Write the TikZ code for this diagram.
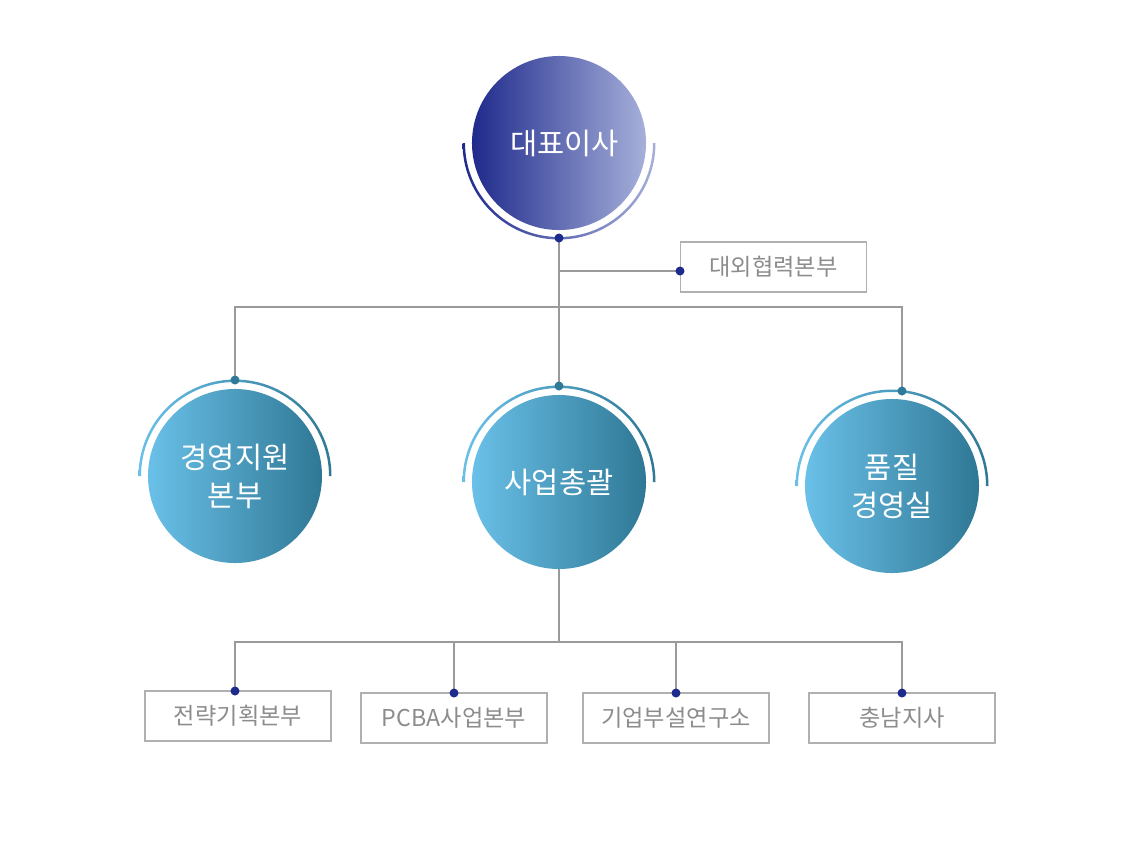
\documentclass[tikz,border=0pt]{standalone}
\usepackage{fontspec}
\newfontfamily\kr{Noto Sans CJK KR}
\usepackage{tikz}
\usetikzlibrary{shapes.geometric}
\definecolor{navyA}{HTML}{1F2A8C}
\definecolor{navyB}{HTML}{A6B0DA}
\definecolor{skyA}{HTML}{6AC0E8}
\definecolor{skyB}{HTML}{2F7895}
\definecolor{pinBlue}{HTML}{1E2B8E}
\definecolor{pinTeal}{HTML}{2E7A98}
\definecolor{wireGray}{HTML}{9A9A9A}
\definecolor{frameGray}{HTML}{B0B0B0}
\definecolor{labelGray}{HTML}{8C8C8C}
\tikzstyle{topcircle} = [circle, minimum size=4.35cm, inner sep=0pt, left color=navyA, right color=navyB, text=white, font=\kr\fontsize{21}{27}\selectfont]
\tikzstyle{subcircle} = [circle, minimum size=4.35cm, inner sep=0pt, left color=skyA, right color=skyB, text=white, align=center, font=\kr\fontsize{21}{27}\selectfont]
\tikzstyle{unitbox} = [rectangle, minimum width=4.65cm, minimum height=1.25cm, draw=frameGray, line width=0.8pt, text=labelGray, font=\kr\fontsize{16.5}{19}\selectfont]
\tikzstyle{wire} = [draw=wireGray, line width=1pt]
\tikzset{
  pinA/.style={fill=pinBlue},
  pinB/.style={fill=pinTeal},
}

\begin{document}
\begin{tikzpicture}[x=0.025cm, y=0.025cm]
\useasboundingbox (0,0) rectangle (1134,-851);

\node (ceo) [topcircle] at (559,-143) {\hspace{8pt}대표이사};
\node (mgmt) [subcircle] at (235,-476) {경영지원\\본부};
\node (biz) [subcircle] at (559,-482) {사업총괄};
\node (qual) [subcircle] at (892,-486) {품질\\경영실};

\node (ext) [unitbox, anchor=west] at (680,-267) {대외협력본부};
\node (strat) [unitbox] at (238,-716) {전략기획본부};
\node (pcba) [unitbox] at (454,-718) {PCBA사업본부};
\node (lab) [unitbox] at (676,-718) {기업부설연구소};
\node (branch) [unitbox] at (902,-718) {충남지사};

% arcs round the circles
\shade [left color=navyA, right color=navyB] (ceo.center) ++(180:96.5) arc[start angle=180, end angle=360, radius=96.5] -- ++(-2.5,0) arc[start angle=360, end angle=180, radius=94] -- cycle;
\foreach \c in {mgmt,biz,qual}
  \shade [left color=skyA, right color=skyB] (\c.center) ++(180:96.5) arc[start angle=180, end angle=0, radius=96.5] -- ++(-2.5,0) arc[start angle=0, end angle=180, radius=94] -- cycle;

\coordinate (ceoPin) at (559,-238);
\coordinate (extPin) at (680,-271);
\coordinate (mgmtPin) at (235,-380);
\coordinate (bizPin) at (559,-386);
\coordinate (qualPin) at (902,-391);
\coordinate (stratPin) at (235,-691);
\coordinate (pcbaPin) at (454,-693);
\coordinate (labPin) at (676,-693);
\coordinate (branchPin) at (902,-693);
\coordinate (busTop) at (559,-307);
\coordinate (busLow) at (559,-642);

\draw [wire] (ceoPin) -- (busTop) -- (bizPin);
\draw [wire] (ceoPin |- extPin) -- (extPin);
\draw [wire] (mgmtPin) -- (mgmtPin |- busTop) -- (qualPin |- busTop) -- (qualPin);
\draw [wire] (biz.south) -- (busLow);
\draw [wire] (stratPin) -- (stratPin |- busLow) -- (branchPin |- busLow) -- (branchPin);
\draw [wire] (pcbaPin) -- (pcbaPin |- busLow);
\draw [wire] (labPin) -- (labPin |- busLow);

\foreach \p in {ceoPin,extPin,stratPin,pcbaPin,labPin,branchPin}
  \fill [pinA] (\p) circle[radius=4.5];
\foreach \p in {mgmtPin,bizPin,qualPin}
  \fill [pinB] (\p) circle[radius=4.5];

\end{tikzpicture}
\end{document}
